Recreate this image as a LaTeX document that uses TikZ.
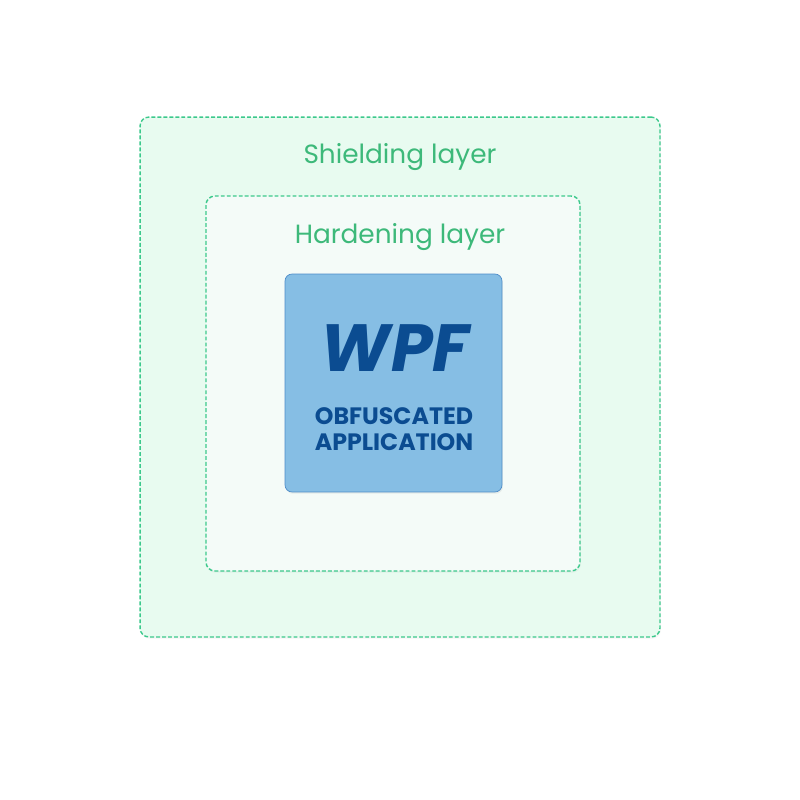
\documentclass[tikz,border=0pt]{standalone}
\usepackage{fontspec}
\setmainfont{Poppins}
\usetikzlibrary{positioning, shadows}
\definecolor{shieldfill}{HTML}{E8FBF0}
\definecolor{hardfill}{HTML}{F4FBF8}
\definecolor{layerline}{HTML}{3CC98C}
\definecolor{layertext}{HTML}{3DB97A}
\definecolor{appfill}{HTML}{86BEE4}
\definecolor{appline}{HTML}{4D8CC9}
\definecolor{apptext}{HTML}{0B4C91}
\tikzstyle{layer} = [rectangle, rounded corners=5pt, draw=layerline, thick,
                     dash pattern=on 2.2pt off 1.2pt,
                     drop shadow={opacity=0.08, shadow xshift=0.5pt, shadow yshift=-1pt}]
\tikzstyle{appbox} = [rectangle, rounded corners=4pt, draw=appline, fill=appfill,
                      minimum width=4.34cm, minimum height=4.36cm,
                      drop shadow={opacity=0.12, shadow xshift=0.5pt, shadow yshift=-1pt}]
\tikzstyle{layerlabel} = [text=layertext, font=\fontsize{15}{18}\selectfont]

\begin{document}
\begin{tikzpicture}[x=0.02cm, y=-0.02cm]
  \useasboundingbox[fill=white] (0,0) rectangle (800,800);

  %% Layers
  \node[layer, fill=shieldfill, minimum width=10.4cm, minimum height=10.4cm]
        (shield) at (400,377) {};
  \node[layer, fill=hardfill, minimum width=7.48cm, minimum height=7.5cm]
        (harden) at (393,383.5) {};

  %% Labels
  \node[layerlabel] (shieldlbl) at (400,157) {Shielding layer};
  \node[layerlabel] (hardlbl) at (400,237) {Hardening layer};

  %% Application
  \node[appbox] (app) at (393.5,383) {};
  \node[text=apptext, font=\fontsize{38}{42}\selectfont\bfseries\itshape]
        (wpf) at (395,348) {WPF};
  \node[text=apptext, font=\fontsize{13.5}{15}\selectfont\bfseries, align=center]
        (obf) at (394,429) {OBFUSCATED\\APPLICATION};

\end{tikzpicture}
\end{document}
